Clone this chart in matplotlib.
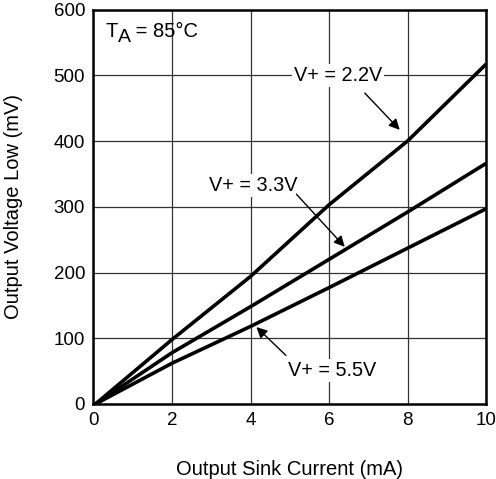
import matplotlib

matplotlib.use("Agg")
import matplotlib.pyplot as plt

# Output voltage low vs sink current, TA = 85C
current_ma = [0.05, 2, 4, 6, 8, 10]
vol_22 = [0, 98, 194, 303, 400, 517]
vol_33 = [0, 78, 148, 220, 292, 366]
vol_55 = [0, 62, 118, 177, 237, 297]

x_ticks = [0, 2, 4, 6, 8, 10]
y_ticks = [0, 100, 200, 300, 400, 500, 600]

plt.rcParams["font.family"] = ["Liberation Sans", "DejaVu Sans"]

fig = plt.figure(figsize=(4.96, 4.79), dpi=100)
ax = fig.add_axes([0.1885, 0.1566, 0.7915, 0.8235])

for y in (vol_22, vol_33, vol_55):
    ax.plot(current_ma, y, color="black", lw=2.6, solid_capstyle="butt", zorder=3)

ax.set_xlim(0, 10)
ax.set_ylim(0, 600)
ax.set_xticks(x_ticks)
ax.set_yticks(y_ticks)
ax.grid(True, color="#333333", lw=0.9)
ax.tick_params(length=0, labelsize=13.5, pad=6)
for s in ax.spines.values():
    s.set_linewidth(1.8)

ax.set_xlabel("Output Sink Current (mA)", fontsize=14.5, labelpad=22)
ax.set_ylabel("Output Voltage Low (mV)", fontsize=14.5, labelpad=22)

box = dict(facecolor="white", edgecolor="none", pad=1.5)
arrow = dict(arrowstyle="-|>", color="black", lw=1, mutation_scale=16,
             shrinkA=0, shrinkB=0)

# T_A label: subscript nearly full size, built from pieces
t = ax.text(0.3, 566, "T", fontsize=14.5, ha="left", va="center", bbox=box, zorder=4)
a = ax.annotate("A", xy=(1, 0), xycoords=t, xytext=(0, 3), textcoords="offset points",
                fontsize=14, ha="left", va="center", zorder=5)
ax.annotate(" = 85°C", xy=(1, 0.5), xycoords=t, xytext=(9, 0), textcoords="offset points",
            fontsize=14.5, ha="left", va="center", zorder=5)

ax.text(6.22, 499, "V+ = 2.2V", fontsize=14.3, ha="center", va="center", bbox=box, zorder=4)
ax.annotate("", xy=(7.8, 417), xytext=(6.91, 473), arrowprops=arrow, zorder=4)

ax.text(4.08, 332, "V+ = 3.3V", fontsize=14.3, ha="center", va="center", bbox=box, zorder=4)
ax.annotate("", xy=(6.4, 239), xytext=(5.17, 319), arrowprops=arrow, zorder=4)

ax.text(6.09, 51, "V+ = 5.5V", fontsize=14.3, ha="center", va="center", bbox=box, zorder=4)
ax.annotate("", xy=(4.15, 117), xytext=(4.9, 74), arrowprops=arrow, zorder=4)

fig.savefig("out.png", dpi=100)
